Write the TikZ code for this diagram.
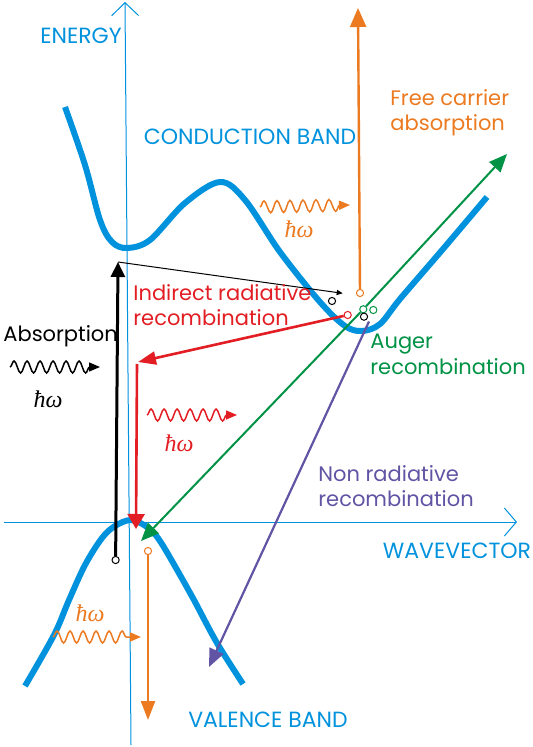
\documentclass[tikz,border=0pt]{standalone}
\usepackage{fontspec}
\setmainfont{Poppins}
\newfontfamily\hwfont{Liberation Serif}
\usetikzlibrary{arrows.meta, decorations.pathmorphing, positioning}
\definecolor{bandblue}{RGB}{0,146,221}
\definecolor{fcorange}{RGB}{236,122,32}
\definecolor{radred}{RGB}{226,30,36}
\definecolor{augergreen}{RGB}{0,146,69}
\definecolor{nrpurple}{RGB}{98,84,164}

\begin{document}
\begin{tikzpicture}[
  x=0.5pt, y=-0.5pt,
  band/.style={draw=bandblue, line width=3pt},
  axis/.style={draw=bandblue, line width=0.5pt},
  lbl/.style={font=\fontsize{10.5}{12.6}\selectfont, inner sep=0pt, align=left},
  caps/.style={lbl, font=\fontsize{11}{13}\selectfont, bandblue},
  hw/.style={font=\fontsize{12}{14}\selectfont\hwfont\itshape, inner sep=0pt},
  arr/.style={-{Triangle[length=9pt, width=7.5pt]}, line width=1.2pt},
  wave/.style={decorate, decoration={snake, amplitude=3pt, segment length=6.5pt, post length=5pt},
    line width=0.75pt, -{Triangle[length=5.5pt, width=4.5pt]}},
  dot/.style={circle, draw, fill=white, line width=0.5pt, inner sep=0pt, minimum size=3.6pt}
]
\useasboundingbox (0,0) rectangle (533,747);

% axes
\coordinate (eTop) at (125,2);
\coordinate (eBot) at (131,745);
\coordinate (kL) at (4,522);
\coordinate (kR) at (517,522);
\draw[axis, {Straight Barb[length=6.5pt, width=13.5pt]}-] (eTop) -- (eBot);
\draw[axis, -{Straight Barb[length=6pt, width=14pt]}] (kL) -- (kR);

% bands
\draw[band] plot[smooth, tension=0.55] coordinates {(65,107) (85,165) (100,220) (112,242) (127,248)
  (150,240) (185,203) (220,182) (245,200) (280,252) (320,302) (345,326) (362,331) (380,324)
  (400,299) (443,249) (487,197)};
\draw[band] plot[smooth, tension=0.55] coordinates {(25,686) (54,635) (69,600) (85,565) (102,538)
  (115,526) (131,520) (147,527) (160,541) (184,582) (194,600) (217,643) (243,684)};

% carriers
\node[dot] (absLow) at (115.6,560) {};
\coordinate (absTop) at (118,262);
\coordinate (indEnd) at (342.7,293.3);
\node[dot] (cbHole) at (332,301) {};
\node[dot, draw=fcorange] (fcStart) at (360,293) {};
\coordinate (fcEnd) at (358,8);
\node[dot, draw=radred] (radStart) at (347.7,315) {};
\coordinate (radMid) at (138,362);
\coordinate (radTop) at (137,364);
\coordinate (radEnd) at (136,529);
\node[dot, draw=augergreen] (augA) at (363.3,309.3) {};
\node[dot, draw=augergreen] (augB) at (373.3,310) {};
\node[dot] (augC) at (364,316.7) {};
\coordinate (augUp) at (507,154);
\coordinate (augDown) at (141,541);
\coordinate (nrStart) at (369,321.5);
\coordinate (nrEnd) at (209,667);
\node[dot, draw=fcorange] (vbStart) at (148,551) {};
\coordinate (vbEnd) at (148,720);

\draw[arr, line width=1.5pt, -{Triangle[length=7.5pt, width=7pt]}] (absLow) -- (absTop);
\draw[-{Triangle[length=3pt, width=2.6pt]}, line width=0.5pt] (absTop) -- (indEnd);
\draw[arr, fcorange, -{Triangle[length=9.5pt, width=8pt]}] (fcStart) -- (fcEnd);
\draw[arr, radred, line width=1.3pt, -{Triangle[length=9pt, width=6.5pt]}] (radStart) -- (radMid);
\draw[arr, radred, line width=1.3pt, -{Triangle[length=7.5pt, width=8.5pt]}] (radTop) -- (radEnd);
\draw[arr, augergreen, line width=1pt] (augA) -- (augUp);
\draw[arr, augergreen, line width=1pt] (augA) -- (augDown);
\draw[arr, nrpurple, line width=1.1pt] (nrStart) -- (nrEnd);
\draw[arr, fcorange, -{Triangle[length=9.5pt, width=7pt]}] (vbStart) -- (vbEnd);

% photons
\coordinate (phA1) at (260,207);
\coordinate (phA2) at (350,205);
\coordinate (phB1) at (10,367);
\coordinate (phB2) at (100,367);
\coordinate (phC1) at (147,415);
\coordinate (phC2) at (237,415);
\coordinate (phD1) at (53,637);
\coordinate (phD2) at (141,637);
\draw[wave, fcorange] (phA1) -- (phA2);
\draw[wave, black] (phB1) -- (phB2);
\draw[wave, radred] (phC1) -- (phC2);
\draw[wave, fcorange] (phD1) -- (phD2);
\node[hw, fcorange] (hwA) at (299,229) {ħω};
\node[hw] (hwB) at (48,399) {ħω};
\node[hw, radred] (hwC) at (179,443) {ħω};
\node[hw, fcorange] (hwD) at (90,613) {ħω};

% labels
\node[caps, anchor=base] (energy) at (81,44) {ENERGY};
\node[caps, anchor=base] (cband) at (250,145) {CONDUCTION BAND};
\node[caps, anchor=base] (wavevec) at (457,558) {WAVEVECTOR};
\node[caps, anchor=base] (vband) at (268,727) {VALENCE BAND};
\node[lbl, fcorange, anchor=north west] (fcLbl) at (390,89) {Free carrier\\absorption};
\node[lbl, augergreen, anchor=north west] (augLbl) at (370,334) {Auger\\recombination};
\node[lbl, radred, anchor=north west] (radLbl) at (133,284) {Indirect radiative\\recombination};
\node[lbl, nrpurple, anchor=north west] (nrLbl) at (318,465) {Non radiative\\recombination};
\node[lbl, anchor=base west] (absLbl) at (3,342) {Absorption};
\end{tikzpicture}
\end{document}
